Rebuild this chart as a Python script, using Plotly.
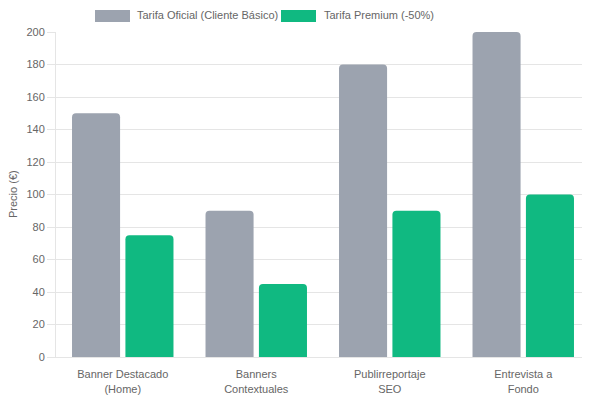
import plotly.graph_objects as go

categories = ["Banner Destacado<br>(Home)", "Banners<br>Contextuales", "Publirreportaje<br>SEO", "Entrevista a<br>Fondo"]
tarifa_oficial = [150, 90, 180, 200]
tarifa_premium = [75, 45, 90, 100]
series_names = ["Tarifa Oficial (Cliente Básico)", "Tarifa Premium (-50%)"]
series_colors = ["#9CA3AF", "#10B981"]
y_title = "Precio (€)"

FONT = "Liberation Sans, Arial, sans-serif"
FS = 11
TXT = "#666666"
GRID = "#e5e5e5"

# page body has an 8px default margin, so the figure is sized to fit the window
OFF = 8
W, H = 590 - OFF, 400 - OFF
L, R, T, B = 56 - OFF, 0, 32 - OFF, 43
PW, PH = W - L - R, H - T - B

def px(xw):
    return (xw - OFF - L) / PW

def py(yw):
    return (H - B - (yw - OFF)) / PH

fig = go.Figure()
for name, vals, col in zip(series_names, [tarifa_oficial, tarifa_premium], series_colors):
    fig.add_trace(go.Bar(x=categories, y=vals, name=name, marker=dict(color=col, line=dict(width=0)),
                         showlegend=False, hoverinfo="skip"))

# custom legend (Chart.js style wide boxes)
legend_items = [(95, 130, 135), (281, 316, 322)]
for (x0, x1, tx), name, col in zip(legend_items, series_names, series_colors):
    fig.add_shape(type="rect", xref="paper", yref="paper",
                  x0=px(x0), x1=px(x1), y0=py(10), y1=py(22),
                  fillcolor=col, line=dict(width=0))
    fig.add_annotation(xref="paper", yref="paper", x=px(tx), y=py(15),
                       text=name, showarrow=False, xanchor="left", yanchor="middle",
                       font=dict(family=FONT, size=FS, color=TXT))

fig.add_annotation(xref="paper", yref="paper", x=px(13), y=py(194), text=y_title,
                   textangle=-90, showarrow=False, xanchor="center", yanchor="middle",
                   font=dict(family=FONT, size=FS, color=TXT))

fig.update_layout(
    width=W, height=H,
    margin=dict(l=L, r=R, t=T, b=B, pad=0, autoexpand=False),
    paper_bgcolor="white", plot_bgcolor="white",
    barmode="group", bargap=0.2, bargroupgap=0.1, barcornerradius=4,
    font=dict(family=FONT, size=FS, color=TXT),
    xaxis=dict(showgrid=False, showline=True, linecolor=GRID, linewidth=1,
               ticks="outside", ticklen=7, tickcolor="rgba(0,0,0,0)", automargin=False,
               tickfont=dict(family=FONT, size=FS, color=TXT), zeroline=False),
    yaxis=dict(range=[0, 200], dtick=20, showgrid=True, gridcolor=GRID, gridwidth=1,
               showline=True, linecolor=GRID, ticks="outside", ticklen=8, tickcolor=GRID,
               zeroline=False, automargin=False, tickfont=dict(family=FONT, size=FS, color=TXT)),
)

fig.write_html("out.html")
